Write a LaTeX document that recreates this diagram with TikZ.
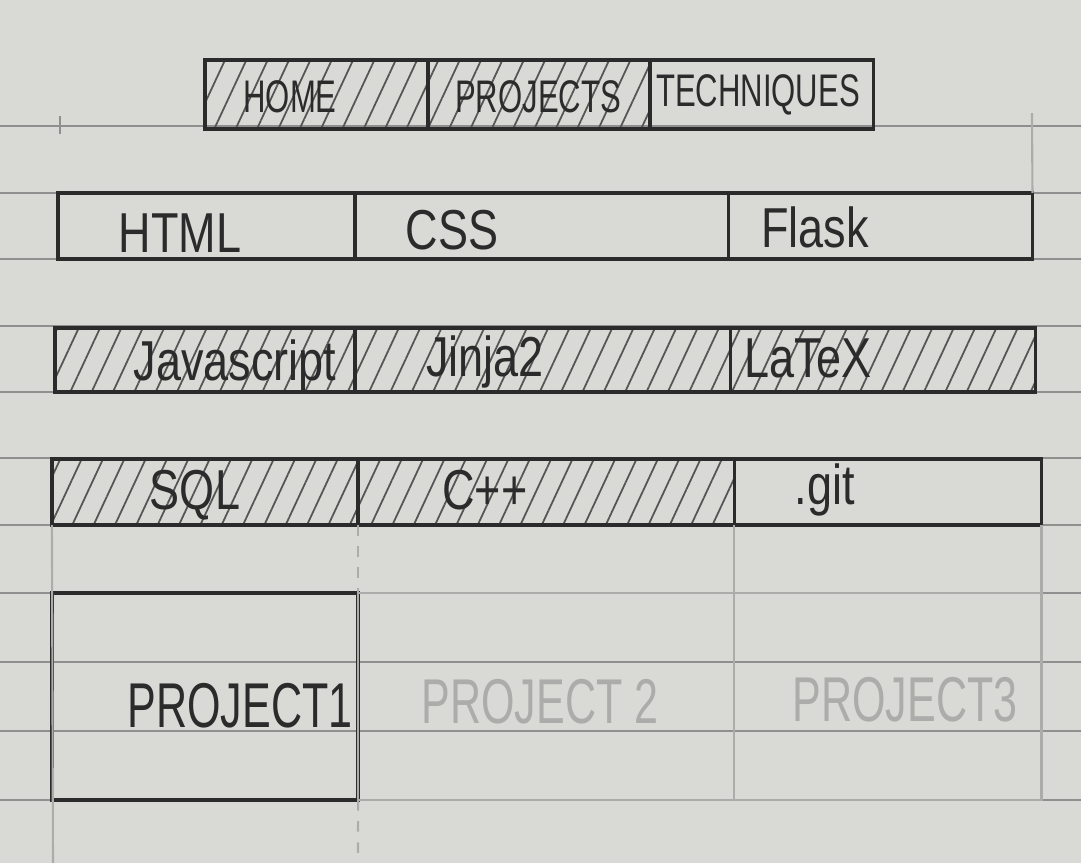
\documentclass[tikz,border=0pt]{standalone}
\usepackage{fontspec}
\newfontfamily\sketchfont[FakeStretch=0.8]{Liberation Sans}
\newfontfamily\sketchnarrow[FakeStretch=0.68]{Liberation Sans}
\usetikzlibrary{positioning, patterns.meta}
\definecolor{paper}{HTML}{D9D9D6}
\definecolor{ink}{HTML}{2B2B2B}
\definecolor{rulecol}{HTML}{8F8F8F}
\definecolor{pencil}{HTML}{ACACAA}

\begin{document}
\begin{tikzpicture}[
	x=0.01cm, y=-0.01cm,
	cell/.style={rectangle, draw=ink, line width=1pt, inner sep=0pt, outer sep=0pt},
	hatched/.style={pattern={Lines[angle=65, distance=5.5pt, line width=0.5pt]}, pattern color=ink!80},
	faintcell/.style={rectangle, draw=pencil, line width=0.6pt, inner sep=0pt, outer sep=0pt},
	navtext/.style={text=ink, font=\sketchnarrow\fontsize{13}{15}\selectfont},
	celltext/.style={text=ink, font=\sketchfont\fontsize{16}{18}\selectfont},
	projtext/.style={text=ink, font=\sketchnarrow\fontsize{18}{20}\selectfont},
	ruled/.style={draw=rulecol, line width=0.5pt},
	pencilline/.style={draw=pencil, line width=0.6pt}
	]
	
	% Paper and ruling
	\fill[paper] (0,0) rectangle (1081,863);
	\useasboundingbox (0,0) rectangle (1081,863);
	\foreach \y in {126,193,259,326,392,458,525,593,662,731,800}
		\draw[ruled] (0,\y) -- (1081,\y);
	\coordinate (tick-top) at (60,116);
	\coordinate (tick-bot) at (60,134);
	\draw[ruled] (tick-top) -- (tick-bot);
	
	% Navigation bar
	\node[cell, hatched, minimum width=2.23cm, minimum height=0.69cm] (home) at (316.5,94.5) {};
	\node[cell, hatched, minimum width=2.22cm, minimum height=0.69cm, right=0pt of home] (projects) {};
	\node[cell, minimum width=2.23cm, minimum height=0.69cm, right=0pt of projects] (techniques) {};
	\node[navtext] (home-t) at (290,97) {HOME};
	\node[navtext] (projects-t) at (538,97) {PROJECTS};
	\node[navtext] (techniques-t) at (758,95) {TECHNIQUES};
	
	% Techniques, first row
	\node[cell, minimum width=2.97cm, minimum height=0.66cm] (html) at (206.5,226) {};
	\node[cell, minimum width=3.73cm, minimum height=0.66cm, right=0pt of html] (css) {};
	\node[cell, minimum width=3.04cm, minimum height=0.66cm, right=0pt of css] (flask) {};
	\node[celltext] (html-t) at (180,233) {HTML};
	\node[celltext] (css-t) at (452,230) {CSS};
	\node[celltext] (flask-t) at (815,227) {Flask};
	
	% Techniques, second row
	\node[cell, hatched, minimum width=3.00cm, minimum height=0.64cm] (javascript) at (205,360) {};
	\node[cell, hatched, minimum width=3.75cm, minimum height=0.64cm, right=0pt of javascript] (jinja) {};
	\node[cell, hatched, minimum width=3.05cm, minimum height=0.64cm, right=0pt of jinja] (latex) {};
	\node[celltext] (javascript-t) at (235,366) {Javascript};
	\node[celltext] (jinja-t) at (485,362) {Jinja2};
	\node[celltext] (latex-t) at (808,358) {LaTeX};
	
	% Techniques, third row
	\node[cell, hatched, minimum width=3.06cm, minimum height=0.66cm] (sql) at (205,492) {};
	\node[cell, hatched, minimum width=3.76cm, minimum height=0.66cm, right=0pt of sql] (cpp) {};
	\node[cell, minimum width=3.07cm, minimum height=0.66cm, right=0pt of cpp] (git) {};
	\node[celltext] (sql-t) at (195,495) {SQL};
	\node[celltext] (cpp-t) at (485,490) {C++};
	\node[celltext] (git-t) at (825,490) {.git};
	
	% Projects
	\node[cell, minimum width=3.06cm, minimum height=2.07cm] (projecta) at (205,696.5) {};
	\node[faintcell, minimum width=3.76cm, minimum height=2.07cm, right=0pt of projecta] (projectb) {};
	\node[faintcell, minimum width=3.07cm, minimum height=2.07cm, right=0pt of projectb] (projectc) {};
	\node[projtext] (projecta-t) at (240,706) {PROJECT1};
	\node[projtext, text=pencil] (projectb-t) at (540,702) {PROJECT 2};
	\node[projtext, text=pencil] (projectc-t) at (905,700) {PROJECT3};
	
	% Pencil guides
	\coordinate (margin-end) at (53,863);
	\coordinate (middle-end) at (358,863);
	\coordinate (corner-top) at (1032,113);
	\draw[pencilline] (sql.south west) -- (margin-end);
	\draw[pencilline, dashed] (cpp.south west) -- (projecta.north east);
	\draw[pencilline, dashed] (projecta.south east) -- (middle-end);
	\draw[pencilline] (git.south west) -- (projectb.north east);
	\draw[pencilline] (git.south east) -- (projectc.north east);
	\draw[pencilline] (corner-top) -- (flask.north east);
	
\end{tikzpicture}
\end{document}
